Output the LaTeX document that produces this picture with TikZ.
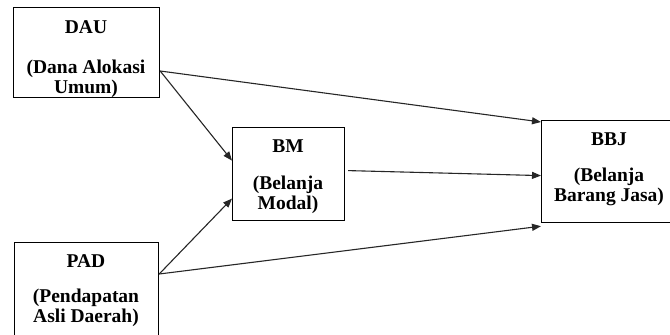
\documentclass[tikz,border=0pt]{standalone}
\usepackage{fontspec}
\setmainfont{Liberation Serif}
\usetikzlibrary{arrows.meta}
\begin{document}
\begin{tikzpicture}[x=1pt,y=1pt,
  vbox/.style={draw=black,line width=1.2pt,minimum width=#1,anchor=north west,inner sep=0pt},
  ttl/.style={anchor=base,font=\fontsize{19.5}{19.5}\selectfont\bfseries,inner sep=0pt},
  sub/.style={anchor=base,align=center,font=\fontsize{19.5}{19.5}\selectfont\bfseries,inner sep=0pt},
  conn/.style={draw=black!85,line width=1.1pt,-{Triangle[length=9pt,width=7pt]}}]
\clip (0,0) rectangle (670,-335);
% boxes
\node[vbox=146pt,minimum height=90pt] (DAU) at (13,-7) {};
\node[vbox=144pt,minimum height=110pt] (PAD) at (14,-242) {};
\node[vbox=112pt,minimum height=93pt] (BM) at (232,-127) {};
\node[vbox=136pt,minimum height=102pt] (BBJ) at (541,-120) {};
% texts
\node[ttl] (tDAU) at (86,-33) {DAU};
\node[sub] (sDAU) at (86,-93) {(Dana Alokasi\\Umum)};
\node[ttl] (tPAD) at (86,-267) {PAD};
\node[sub] (sPAD) at (86,-322) {(Pendapatan\\Asli Daerah)};
\node[ttl] (tBM) at (288,-152) {BM};
\node[sub] (sBM) at (288,-209) {(Belanja\\Modal)};
\node[ttl] (tBBJ) at (609,-145) {BBJ};
\node[sub] (sBBJ) at (609,-201) {(Belanja\\Barang Jasa)};
% connector points
\coordinate (dauout) at ([yshift=-64pt]DAU.north east);
\coordinate (padout) at ([yshift=-32pt]PAD.north east);
% connectors
\draw[conn] (dauout) -- ([yshift=-2pt]BBJ.north west);
\draw[conn] (dauout) -- ([yshift=13.5pt]BM.west);
\draw[conn] (padout) -- ([yshift=-24.5pt]BM.west);
\draw[conn] (padout) -- ([yshift=-3pt]BBJ.south west);
\draw[conn] ([xshift=3pt,yshift=3.5pt]BM.east) -- ([yshift=-4pt]BBJ.west);
\end{tikzpicture}
\end{document}
